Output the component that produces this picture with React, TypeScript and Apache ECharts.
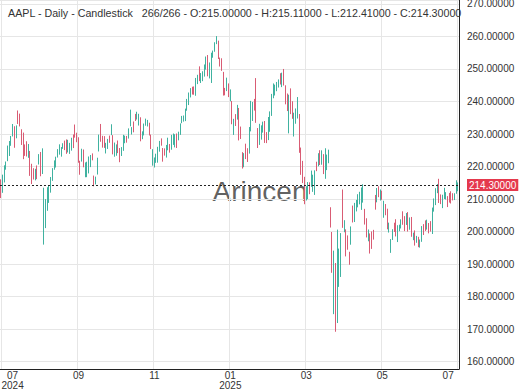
import React, { useEffect, useRef } from "react";
import * as echarts from "echarts";

// ---- header texts ----
const headerText =
  "AAPL - Daily - Candlestick   266/266 - O:215.00000 - H:215.11000 - L:212.41000 - C:214.30000";
const watermarkText = "Arincen";

// ---- daily bars: [day, open, high, low, close] per month ----
const jun2024 = [[28, 215.77, 216.07, 210.3, 210.62]];
const jul2024 = [
  [1, 212.09, 217.51, 211.92, 216.75], [2, 216.15, 220.38, 215.1, 220.27], [3, 220.0, 221.55, 219.03, 221.55],
  [5, 221.65, 226.45, 221.65, 226.34], [8, 227.09, 227.85, 223.25, 227.82], [9, 227.93, 229.4, 226.37, 228.68],
  [10, 229.3, 233.08, 229.25, 232.98], [11, 231.39, 232.39, 225.77, 227.57], [12, 228.92, 232.64, 228.68, 230.54],
  [15, 236.48, 237.23, 233.09, 234.4], [16, 235.0, 236.27, 232.33, 234.82], [17, 229.45, 231.46, 226.64, 228.88],
  [18, 230.28, 230.44, 222.27, 224.18], [19, 224.82, 226.8, 223.28, 224.31], [22, 227.01, 227.78, 223.09, 223.96],
  [23, 224.37, 226.94, 222.68, 225.01], [24, 224.0, 224.8, 217.13, 218.54], [25, 218.93, 220.85, 214.62, 217.49],
  [26, 218.7, 219.49, 216.01, 217.96], [29, 216.96, 219.3, 215.75, 218.24], [30, 219.19, 220.33, 216.12, 218.8],
  [31, 221.44, 223.82, 220.63, 222.08],
];
const aug2024 = [
  [1, 224.37, 224.48, 217.02, 218.36], [2, 219.15, 225.6, 217.71, 219.86], [5, 199.09, 213.5, 196.0, 209.27],
  [6, 205.3, 209.99, 201.07, 207.23], [7, 206.9, 213.64, 206.39, 209.82], [8, 213.11, 214.2, 208.83, 213.31],
  [9, 212.1, 216.78, 211.97, 216.24], [12, 216.07, 219.51, 215.6, 217.53], [13, 219.01, 221.89, 219.01, 221.27],
  [14, 220.57, 223.03, 219.7, 221.72], [15, 224.6, 225.35, 222.76, 224.72], [16, 223.92, 226.83, 223.65, 226.05],
  [19, 225.72, 225.99, 223.04, 225.89], [20, 225.77, 227.17, 225.45, 226.51], [21, 226.52, 227.98, 225.05, 226.4],
  [22, 227.79, 228.34, 223.9, 224.53], [23, 225.66, 228.22, 224.33, 226.84], [26, 226.76, 227.28, 223.89, 227.18],
  [27, 226.0, 228.85, 224.89, 228.03], [28, 227.92, 229.86, 225.68, 226.49], [29, 230.1, 232.92, 228.88, 229.79],
  [30, 230.19, 230.4, 227.48, 229.0],
];
const sep2024 = [
  [3, 228.55, 229.0, 221.17, 222.77], [4, 221.66, 221.78, 217.48, 220.85], [5, 221.63, 225.48, 221.52, 222.38],
  [6, 223.95, 225.24, 219.77, 220.82], [9, 220.82, 221.27, 216.71, 220.91], [10, 218.92, 221.48, 216.73, 220.11],
  [11, 221.46, 223.09, 217.89, 222.66], [12, 222.5, 223.55, 219.82, 222.77], [13, 223.58, 224.04, 221.91, 222.5],
  [16, 216.54, 217.22, 213.92, 216.32], [17, 215.75, 216.9, 214.5, 216.79], [18, 217.55, 222.71, 217.54, 220.69],
  [19, 224.99, 229.82, 224.63, 228.87], [20, 229.97, 233.09, 227.62, 228.2], [23, 227.34, 229.45, 225.81, 226.47],
  [24, 228.65, 229.35, 225.73, 227.37], [25, 224.93, 227.29, 224.02, 226.37], [26, 227.3, 228.5, 225.41, 227.52],
  [27, 228.46, 229.52, 227.3, 227.79], [30, 230.04, 233.0, 229.65, 233.0],
];
const oct2024 = [
  [1, 229.52, 229.65, 223.74, 226.21], [2, 225.89, 227.37, 223.02, 226.78], [3, 225.14, 226.81, 223.32, 225.67],
  [4, 227.9, 228.0, 224.13, 226.8], [7, 224.5, 225.69, 221.33, 221.69], [8, 224.3, 225.98, 223.25, 225.77],
  [9, 225.23, 229.75, 224.83, 229.54], [10, 227.78, 229.5, 227.17, 229.04], [11, 229.3, 229.41, 227.34, 227.55],
  [14, 228.7, 231.73, 228.6, 231.3], [15, 233.61, 237.49, 232.37, 233.85], [16, 231.6, 232.12, 229.84, 231.78],
  [17, 233.43, 233.85, 230.52, 232.15], [18, 236.18, 236.18, 234.01, 235.0], [21, 234.45, 236.85, 234.45, 236.48],
  [22, 233.89, 236.22, 232.6, 235.86], [23, 234.08, 235.14, 227.76, 230.76], [24, 229.98, 230.82, 228.41, 230.57],
  [25, 229.74, 233.22, 229.57, 231.41], [28, 233.32, 234.73, 232.55, 233.4], [29, 233.1, 234.33, 232.32, 233.67],
  [30, 232.61, 233.47, 229.55, 230.1], [31, 229.34, 229.83, 225.37, 225.91],
];
const nov2024 = [
  [1, 220.97, 225.35, 220.27, 222.91], [4, 220.99, 222.79, 219.71, 222.01], [5, 221.8, 223.95, 221.14, 223.45],
  [6, 222.61, 226.07, 221.19, 222.72], [7, 224.63, 227.88, 224.57, 227.48], [8, 227.17, 228.66, 226.41, 226.96],
  [11, 225.0, 225.7, 221.5, 224.23], [12, 224.55, 225.59, 223.36, 224.23], [13, 224.01, 226.65, 222.76, 225.12],
  [14, 225.02, 228.87, 225.0, 228.22], [15, 226.4, 226.92, 224.27, 225.0], [18, 225.25, 229.74, 225.17, 228.02],
  [19, 226.98, 230.16, 226.66, 228.28], [20, 228.06, 229.93, 225.89, 229.0], [21, 228.88, 230.16, 225.71, 228.52],
  [22, 228.06, 230.72, 228.06, 229.87], [25, 231.46, 233.25, 229.74, 232.87], [26, 233.33, 235.57, 233.33, 235.06],
  [27, 234.47, 235.69, 233.81, 234.93], [29, 234.81, 237.81, 233.97, 237.33],
];
const dec2024 = [
  [2, 237.27, 240.79, 237.16, 239.59], [3, 239.81, 242.76, 238.9, 242.65], [4, 242.87, 244.11, 241.25, 243.01],
  [5, 243.99, 244.54, 242.13, 243.04], [6, 242.91, 244.63, 242.08, 242.84], [9, 241.83, 247.24, 241.75, 246.75],
  [10, 246.89, 248.21, 245.34, 247.77], [11, 247.96, 250.8, 246.26, 246.49], [12, 246.89, 248.74, 245.68, 247.96],
  [13, 247.82, 249.29, 246.24, 248.13], [16, 247.99, 251.38, 247.65, 251.04], [17, 250.08, 253.83, 249.78, 253.48],
  [18, 252.16, 254.28, 247.74, 248.05], [19, 247.5, 252.0, 247.09, 249.79], [20, 248.04, 255.0, 245.69, 254.49],
  [23, 254.77, 255.65, 253.45, 255.27], [24, 255.49, 258.21, 255.29, 258.2], [26, 258.19, 260.1, 257.63, 259.02],
  [27, 257.83, 258.7, 253.06, 255.59], [30, 252.23, 253.5, 250.75, 252.2], [31, 252.44, 253.28, 249.43, 250.42],
];
const jan2025 = [
  [2, 248.93, 249.1, 241.82, 243.85], [3, 243.36, 244.18, 241.89, 243.36], [6, 244.31, 247.33, 243.2, 245.0],
  [7, 242.98, 245.55, 241.35, 242.21], [8, 241.92, 243.71, 240.05, 242.7], [10, 240.01, 240.16, 233.0, 236.85],
  [13, 233.53, 234.67, 229.72, 234.4], [14, 234.75, 236.12, 232.47, 233.28], [15, 234.64, 238.96, 234.43, 237.87],
  [16, 237.35, 238.01, 228.03, 228.26], [17, 232.12, 232.29, 228.48, 229.98], [21, 224.0, 224.42, 219.38, 222.64],
  [22, 219.79, 224.12, 219.79, 223.83], [23, 224.74, 227.03, 222.3, 223.66], [24, 224.78, 225.63, 221.41, 222.78],
  [27, 224.02, 232.15, 223.98, 229.86], [28, 230.85, 240.19, 230.81, 238.26], [29, 234.12, 239.86, 234.01, 239.36],
  [30, 238.67, 240.79, 237.21, 237.59], [31, 247.19, 247.19, 233.44, 236.0],
];
const feb2025 = [
  [3, 229.99, 231.83, 225.7, 228.01], [4, 227.25, 233.13, 226.65, 232.8], [5, 228.53, 232.67, 228.27, 232.47],
  [6, 231.29, 233.8, 230.43, 233.22], [7, 232.6, 234.0, 227.26, 227.63], [10, 229.57, 230.59, 227.2, 227.65],
  [11, 228.2, 235.23, 228.13, 232.62], [12, 231.2, 236.96, 230.68, 236.87], [13, 236.91, 242.34, 235.57, 241.53],
  [14, 241.25, 245.55, 240.99, 244.6], [18, 244.15, 245.18, 241.84, 244.47], [19, 244.66, 246.01, 243.16, 244.87],
  [20, 244.94, 246.78, 244.29, 245.83], [21, 245.95, 248.69, 245.22, 245.55], [24, 244.93, 248.86, 244.42, 247.1],
  [25, 248.0, 250.0, 244.91, 247.04], [26, 244.33, 244.98, 239.13, 240.36], [27, 239.41, 242.46, 237.06, 237.3],
  [28, 236.95, 242.09, 230.2, 241.84],
];
const mar2025 = [
  [3, 241.79, 244.03, 236.11, 238.03], [4, 237.71, 240.07, 234.68, 235.93], [5, 235.42, 236.55, 229.23, 235.74],
  [6, 234.44, 237.86, 233.16, 235.33], [7, 235.11, 241.37, 234.76, 239.07], [10, 235.54, 236.16, 224.22, 227.48],
  [11, 223.81, 225.84, 217.45, 220.84], [12, 220.14, 221.75, 214.91, 216.98], [13, 215.95, 216.84, 208.42, 209.68],
  [14, 211.25, 213.95, 209.58, 213.49], [17, 213.31, 215.22, 209.97, 214.0], [18, 214.16, 215.15, 211.49, 212.69],
  [19, 214.22, 218.76, 213.75, 215.24], [20, 213.99, 217.49, 212.22, 214.1], [21, 211.56, 218.84, 211.28, 218.27],
  [24, 221.0, 221.48, 218.58, 220.73], [25, 220.77, 224.1, 220.08, 223.75], [26, 223.51, 225.02, 220.47, 221.53],
  [27, 221.39, 224.99, 220.56, 223.85], [28, 221.67, 223.81, 217.68, 217.9], [31, 217.01, 225.62, 216.23, 222.13],
];
const apr2025 = [
  [1, 219.81, 223.68, 218.9, 223.19], [2, 221.32, 225.19, 221.02, 223.89], [3, 205.54, 207.49, 201.25, 203.19],
  [4, 193.89, 199.88, 187.34, 188.38], [7, 177.2, 194.15, 174.62, 181.46], [8, 186.7, 190.34, 169.21, 172.42],
  [9, 171.95, 200.61, 171.89, 198.85], [10, 189.07, 194.78, 183.0, 190.42], [11, 186.1, 199.54, 186.06, 198.15],
  [14, 211.44, 212.94, 201.16, 202.52], [15, 201.86, 203.51, 199.8, 202.14], [16, 198.36, 200.7, 192.37, 194.27],
  [17, 197.2, 198.83, 194.42, 196.98], [21, 193.27, 193.8, 189.81, 193.16], [22, 196.12, 201.59, 195.97, 199.74],
  [23, 206.0, 208.0, 202.8, 204.6], [24, 204.89, 208.83, 202.94, 208.37], [25, 206.37, 209.75, 206.2, 209.28],
  [28, 210.0, 211.5, 207.46, 210.14], [29, 208.69, 212.24, 208.37, 211.21], [30, 209.3, 213.58, 206.67, 212.5],
];
const may2025 = [
  [1, 209.08, 214.56, 208.9, 213.32], [2, 206.09, 206.99, 202.16, 205.35], [5, 203.1, 204.1, 198.21, 198.89],
  [6, 198.21, 200.65, 197.02, 198.51], [7, 199.17, 199.44, 193.25, 196.25], [8, 197.72, 200.05, 194.68, 197.49],
  [9, 199.0, 200.54, 197.54, 198.53], [12, 210.97, 211.27, 206.75, 210.79], [13, 210.43, 213.4, 209.0, 212.93],
  [14, 212.43, 213.94, 210.58, 212.33], [15, 210.95, 212.96, 209.54, 211.45], [16, 212.36, 212.57, 209.77, 211.26],
  [19, 207.91, 209.48, 204.26, 208.78], [20, 207.67, 208.47, 205.03, 206.86], [21, 205.17, 207.04, 200.71, 202.09],
  [22, 200.71, 202.75, 199.7, 201.36], [23, 193.67, 197.7, 193.46, 195.27], [27, 198.3, 200.74, 197.43, 200.21],
  [28, 200.59, 202.73, 199.9, 200.42], [29, 203.58, 203.81, 198.51, 199.95], [30, 199.37, 201.96, 196.78, 200.85],
];
const jun2025 = [
  [2, 200.28, 202.13, 200.12, 201.7], [3, 201.35, 203.77, 200.96, 203.27], [4, 202.91, 206.24, 202.1, 202.82],
  [5, 203.5, 204.75, 200.15, 200.63], [6, 203.0, 205.7, 202.05, 203.92], [9, 204.39, 206.0, 200.02, 201.45],
  [10, 200.6, 204.35, 200.57, 202.67], [11, 203.5, 204.5, 198.41, 198.78], [12, 199.08, 199.68, 197.36, 199.2],
  [13, 199.73, 200.37, 195.7, 196.45], [16, 197.3, 198.69, 196.56, 198.42], [17, 197.2, 198.39, 195.21, 195.64],
  [18, 195.94, 197.57, 195.07, 196.58], [20, 198.24, 201.7, 196.86, 201.0], [23, 201.63, 202.3, 198.96, 201.5],
  [24, 202.59, 203.44, 200.2, 200.3], [25, 201.45, 203.67, 200.62, 201.56], [26, 201.43, 202.64, 199.46, 201.0],
  [27, 201.89, 203.22, 200.0, 201.08], [30, 202.01, 207.39, 199.26, 205.17],
];
const jul2025 = [
  [1, 206.67, 210.19, 206.14, 207.82], [2, 208.91, 213.34, 208.14, 212.44], [3, 212.15, 214.65, 211.81, 213.55],
  [7, 212.68, 216.23, 208.8, 209.95], [8, 210.1, 211.43, 208.45, 210.01], [9, 209.53, 211.33, 207.22, 211.14],
  [10, 210.51, 213.48, 210.03, 212.41], [11, 210.57, 212.13, 209.86, 211.16], [14, 209.93, 210.91, 207.54, 208.62],
  [15, 209.22, 211.89, 208.92, 209.11], [16, 210.3, 212.4, 208.64, 210.16], [17, 210.57, 211.8, 209.59, 210.02],
  [18, 210.87, 211.79, 209.7, 211.18], [21, 212.1, 215.78, 211.63, 212.48], [22, 213.14, 215.11, 212.41, 214.3],
];

const monthKeys = [
  "2024-06", "2024-07", "2024-08", "2024-09", "2024-10", "2024-11", "2024-12",
  "2025-01", "2025-02", "2025-03", "2025-04", "2025-05", "2025-06", "2025-07",
];
const monthRows = [
  jun2024, jul2024, aug2024, sep2024, oct2024, nov2024, dec2024,
  jan2025, feb2025, mar2025, apr2025, may2025, jun2025, jul2025,
];

// axis settings
const yMin = 157.76;
const yMax = 271.2;
const labelFirst = 1;
const labelStep = 44;

const dates: string[] = [];
const candles: number[][] = [];
monthRows.forEach((rows, mi) => {
  rows.forEach(([d, o, h, l, c]) => {
    dates.push(`${monthKeys[mi]}-${String(d).padStart(2, "0")}`);
    candles.push([o, c, l, h]);
  });
});
const lastClose = candles[candles.length - 1][1];
const lastIndex = dates.length - 1;

const FONT = "'Liberation Sans', Arial, Helvetica, sans-serif";
const showLabel = (i: number) => i >= labelFirst && (i - labelFirst) % labelStep === 0;

export default function App() {
  const ref = useRef<HTMLDivElement>(null);
  useEffect(() => {
    if (!ref.current) return;
    const chart = echarts.init(ref.current, undefined, { renderer: "svg" });
    const xData = dates.map((d, i) => {
      if (i === labelFirst) return { value: d, textStyle: { padding: [0, 0, 0, 20] } };
      if (i === lastIndex) return { value: d, textStyle: { padding: [0, 20, 0, 0] } };
      return d;
    });
    chart.setOption({
      animation: false,
      backgroundColor: "#ffffff",
      textStyle: { fontFamily: FONT },
      title: {
        text: headerText,
        left: 8,
        top: 7,
        padding: 0,
        textStyle: { fontSize: 10.7, fontWeight: "normal", color: "#333", fontFamily: FONT },
      },
      graphic: [
        {
          type: "text",
          left: "center",
          top: 177,
          z: 0,
          silent: true,
          style: { text: watermarkText, fontSize: 28, fill: "rgba(70,70,70,0.85)", fontFamily: FONT },
        },
      ],
      grid: { left: 0, right: 61, top: 0, bottom: 21, containLabel: false, outerBoundsMode: "none" },
      xAxis: {
        type: "category",
        data: xData,
        boundaryGap: true,
        axisLine: { show: true, lineStyle: { color: "#222", width: 1 } },
        axisTick: { show: false },
        axisLabel: {
          interval: (i: number) => showLabel(i),
          margin: 1,
          fontSize: 10,
          lineHeight: 10,
          color: "#333",
          formatter: (v: string, i: number) => {
            const [yy, mm] = v.split("-");
            return i === labelFirst || mm === "01" ? `${mm}\n${yy}` : mm;
          },
        },
        splitLine: {
          show: true,
          interval: (i: number) => showLabel(i),
          lineStyle: { color: "#e6e6e6", width: 1 },
        },
      },
      yAxis: {
        type: "value",
        position: "right",
        min: yMin,
        max: yMax,
        splitNumber: 11,
        minInterval: 10,
        maxInterval: 10,
        axisLine: { show: true, lineStyle: { color: "#222", width: 1 } },
        axisTick: { show: false },
        axisLabel: {
          margin: 8,
          fontSize: 10,
          color: "#333",
          showMinLabel: false,
          showMaxLabel: false,
          formatter: (v: number) => v.toFixed(5),
        },
        splitLine: { show: true, lineStyle: { color: "#e6e6e6", width: 1 } },
      },
      series: [
        {
          type: "candlestick",
          data: candles,
          barWidth: 1,
          z: 3,
          itemStyle: {
            color: "#40b2a0",
            borderColor: "#40b2a0",
            color0: "#d95c74",
            borderColor0: "#d95c74",
            borderWidth: 1,
          },
          markLine: {
            silent: true,
            symbol: ["none", "none"],
            data: [{ yAxis: lastClose }],
            lineStyle: { color: "#222", type: [2, 2], width: 1 },
            label: {
              show: true,
              position: "end",
              distance: 8,
              formatter: () => lastClose.toFixed(5),
              backgroundColor: "#e5394d",
              color: "#fff",
              fontSize: 10,
              padding: [1, 2, 1, 2],
            },
          },
        },
      ],
    });
    return () => chart.dispose();
  }, []);
  return (
    <div
      ref={ref}
      style={{ position: "fixed", left: 0, top: 0, width: 520, height: 390 }}
    />
  );
}
